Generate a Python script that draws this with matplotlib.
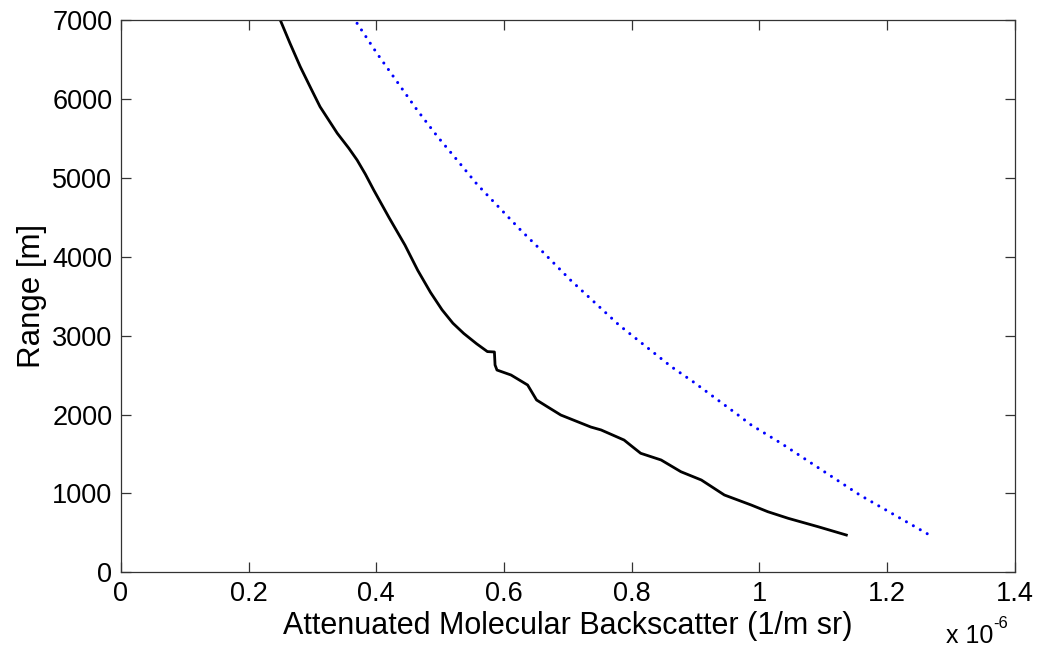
import matplotlib
matplotlib.use("Agg")
from matplotlib import pyplot as plt
from matplotlib.ticker import FuncFormatter

# measured backscatter (x in units of 1e-6 1/(m sr)), range in m
meas_x = [0.250, 0.265, 0.281, 0.297, 0.312, 0.339, 0.357, 0.370, 0.383, 0.396,
          0.420, 0.445, 0.465, 0.485, 0.503, 0.520, 0.537, 0.557, 0.574, 0.585,
          0.586, 0.589, 0.611, 0.637, 0.651, 0.668, 0.689, 0.736, 0.752, 0.788,
          0.800, 0.814, 0.846, 0.877, 0.909, 0.945, 0.987, 1.013, 1.045, 1.092,
          1.136]
meas_r = [7000, 6710, 6414, 6150, 5906, 5569, 5380, 5230, 5050, 4850,
          4500, 4150, 3830, 3550, 3330, 3160, 3030, 2900, 2800, 2795,
          2630, 2566, 2503, 2376, 2186, 2100, 1995, 1843, 1806, 1678,
          1600, 1510, 1425, 1276, 1171, 981, 854, 769, 685, 578,
          473]

# modelled molecular backscatter
mol_x = [0.370, 0.401, 0.432, 0.464, 0.496, 0.526, 0.558, 0.626, 0.660, 0.704,
         0.780, 0.862, 0.896, 0.963, 0.987, 1.034, 1.157, 1.269]
mol_r = [6964, 6584, 6230, 5864, 5526, 5235, 4920, 4342, 4070, 3708,
         3137, 2608, 2418, 2017, 1869, 1636, 981, 460]

xticks = [0, 0.2, 0.4, 0.6, 0.8, 1.0, 1.2, 1.4]
yticks = [0, 1000, 2000, 3000, 4000, 5000, 6000, 7000]

plt.rcParams['font.family'] = ['Liberation Sans', 'DejaVu Sans']
plt.rc('xtick', labelsize=19.5)
plt.rc('ytick', labelsize=19.5)

fig = plt.figure(figsize=(10.41, 6.5), dpi=100)
ax = fig.add_axes([0.116, 0.1195, 0.859, 0.849])

ax.plot(meas_x, meas_r, color='black', lw=2)
ax.plot(mol_x, mol_r, color='blue', lw=2.2,
        linestyle=(0, (0.01, 2.6)), dash_capstyle='round')

ax.set_xlim(0, 1.4)
ax.set_ylim(0, 7000)
ax.set_xticks(xticks)
ax.set_yticks(yticks)
ax.xaxis.set_major_formatter(FuncFormatter(lambda v, p: '%g' % round(v, 2)))
ax.tick_params(direction='in', length=7, width=0.9, color='#333333',
               top=True, right=True, pad=6)
for s in ax.spines.values():
    s.set_color('#333333')
    s.set_linewidth(0.9)

ax.set_xlabel('Attenuated Molecular Backscatter (1/m sr)', fontsize=22, labelpad=3)
ax.set_ylabel('Range [m]', fontsize=22.5, labelpad=4)

fig.text(0.909, 0.011, 'x 10', fontsize=18, va='baseline')
fig.text(0.954, 0.034, '-6', fontsize=12, va='baseline')

fig.savefig('out.png', dpi=100)
